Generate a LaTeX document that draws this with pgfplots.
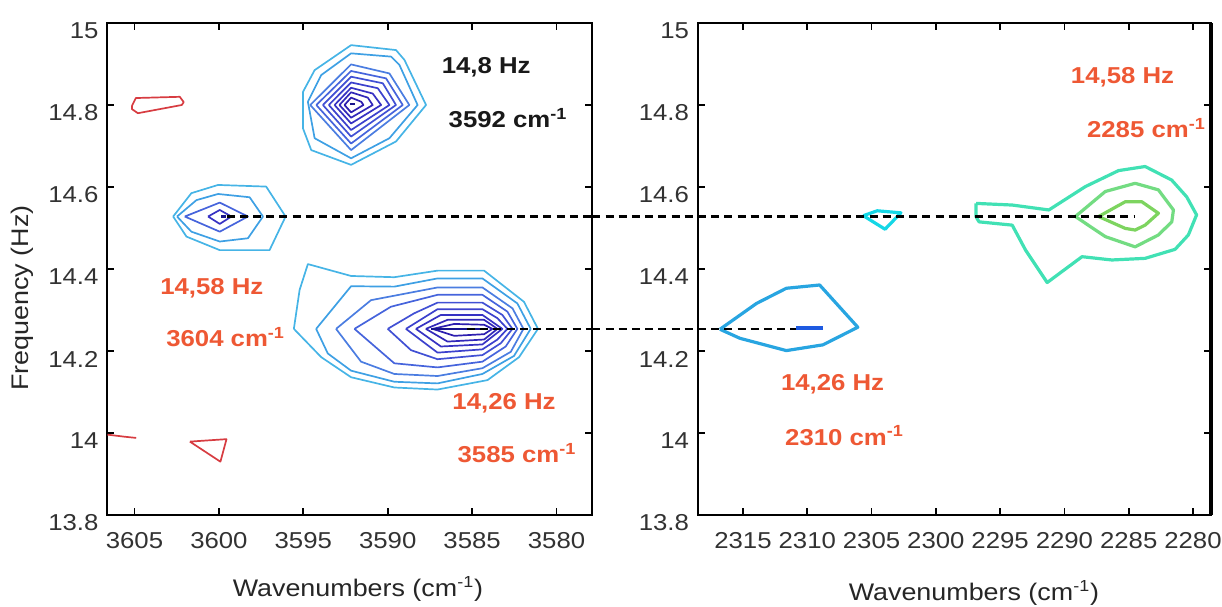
\documentclass[border=0pt]{standalone}
\usepackage{pgfplots}
\pgfplotsset{compat=1.18}
\usepackage{fontspec}
\setmainfont[FakeStretch=1.12]{Liberation Sans}

% contour level colours (outer -> inner)
\definecolor{cA}{RGB}{70,180,230}
\definecolor{cB}{RGB}{62,160,228}
\definecolor{cC}{RGB}{75,125,225}
\definecolor{cD}{RGB}{70,100,220}
\definecolor{cE}{RGB}{65,80,212}
\definecolor{cF}{RGB}{60,65,205}
\definecolor{cG}{RGB}{55,50,195}
\definecolor{cH}{RGB}{50,40,185}
\definecolor{cI}{RGB}{45,30,175}
\definecolor{cCore}{RGB}{25,20,140}
\definecolor{cRed}{RGB}{215,60,65}
\definecolor{cLab}{RGB}{238,88,52}
\definecolor{cBlueR}{RGB}{40,165,225}
\definecolor{cBlueCore}{RGB}{30,90,225}
\definecolor{cCyan}{RGB}{20,215,230}
\definecolor{cTeal}{RGB}{65,225,180}
\definecolor{cGreenA}{RGB}{115,220,130}
\definecolor{cGreenB}{RGB}{125,212,95}
\definecolor{tickgray}{RGB}{50,50,50}

\tikzset{
  ann/.style={font=\bfseries\fontsize{11.5}{12}\selectfont, text=cLab, inner sep=0pt},
}
\pgfplotsset{
  panel/.style={
    scale only axis,
    height=246pt,
    ymin=13.8, ymax=15,
    ytick={13.8,14,14.2,14.4,14.6,14.8,15},
    yticklabels={13.8,14,14.2,14.4,14.6,14.8,15},
    x dir=reverse,
    tick align=inside,
    major tick length=3.5pt,
    axis line style={line width=1pt, black},
    tick style={line width=0.9pt, black},
    ticklabel style={font=\fontsize{11.5}{12}\selectfont, text=tickgray},
    yticklabel style={yshift=-4pt, xshift=-1pt},
    xticklabel style={yshift=-5pt},
    label style={font=\fontsize{12}{14}\selectfont, text=black!85},
    clip=false,
    /pgf/number format/assume math mode=true,
  },
  lev/.style={line width=0.85pt, line join=round},
  levR/.style={line width=1.6pt, line join=round},
  dashline/.style={black, line width=1.2pt, dash pattern=on 4pt off 2.6pt},
}

\begin{document}
\begin{tikzpicture}
% ---------------- left panel: 3600 cm-1 region ----------------
\begin{axis}[panel,
  at={(0pt,0pt)}, anchor=south west,
  width=242.25pt,
  xmin=3577.9, xmax=3606.6,
  xtick={3580,3585,3590,3595,3600,3605},
  xticklabels={3580,3585,3590,3595,3600,3605},
  xlabel={Wavenumbers (cm\textsuperscript{-1})},
  xlabel style={at={(axis description cs:0.517,-0.15)}, anchor=center},
  ylabel={Frequency (Hz)},
  ylabel style={at={(axis description cs:-0.176,0.441)}, anchor=center},
]
% lower band, 14.26 Hz
\addplot[lev, cA] coordinates {(3595.56,14.254) (3595.22,14.349) (3594.73,14.412) (3592.17,14.383) (3589.61,14.380) (3587.05,14.396) (3584.29,14.396) (3581.93,14.320) (3581.10,14.254) (3582.22,14.185) (3584.09,14.129) (3587.05,14.106) (3589.61,14.111) (3592.17,14.136) (3593.94,14.185) (3595.56,14.254)};
\addplot[lev, cB] coordinates {(3594.24,14.254) (3592.17,14.358) (3589.61,14.357) (3587.05,14.377) (3584.39,14.377) (3582.32,14.316) (3581.53,14.254) (3582.52,14.188) (3584.39,14.144) (3587.05,14.121) (3589.61,14.125) (3592.17,14.152) (3593.55,14.194) (3594.24,14.254)};
\addplot[lev, cC] coordinates {(3593.06,14.254) (3590.99,14.324) (3587.05,14.355) (3584.39,14.355) (3582.61,14.304) (3581.96,14.254) (3582.71,14.198) (3584.39,14.158) (3587.05,14.139) (3589.61,14.144) (3591.58,14.174) (3593.06,14.254)};
\addplot[lev, cD] coordinates {(3591.97,14.254) (3589.81,14.308) (3587.05,14.337) (3584.39,14.337) (3582.91,14.296) (3582.32,14.254) (3583.01,14.211) (3584.39,14.174) (3587.05,14.160) (3589.61,14.170) (3591.97,14.254)};
\addplot[lev, cE] coordinates {(3590.00,14.254) (3588.43,14.292) (3587.05,14.318) (3584.39,14.318) (3583.21,14.288) (3582.61,14.254) (3583.30,14.219) (3584.39,14.190) (3587.05,14.180) (3588.62,14.202) (3590.00,14.254)};
\addplot[lev, cF] coordinates {(3588.92,14.254) (3587.05,14.302) (3584.39,14.302) (3583.50,14.280) (3582.91,14.254) (3583.50,14.228) (3584.39,14.204) (3587.05,14.196) (3588.92,14.254)};
\addplot[lev, cG] coordinates {(3588.33,14.254) (3586.85,14.288) (3584.39,14.288) (3583.21,14.254) (3584.39,14.216) (3586.85,14.211) (3588.33,14.254)};
\addplot[lev, cH] coordinates {(3587.74,14.254) (3586.46,14.276) (3584.29,14.276) (3583.50,14.254) (3584.29,14.228) (3586.46,14.223) (3587.74,14.254)};
\addplot[lev, cI] coordinates {(3587.34,14.254) (3586.06,14.266) (3584.29,14.264) (3583.80,14.254) (3584.29,14.241) (3586.06,14.237) (3587.34,14.254)};
\addplot[cCore, line width=1.2pt] coordinates {(3587.44,14.254) (3584.49,14.254)};

% upper band, 14.8 Hz
\addplot[lev, cA] coordinates {(3595.02,14.832) (3594.33,14.885) (3592.17,14.946) (3589.51,14.934) (3589.01,14.910) (3587.73,14.800) (3589.51,14.711) (3592.17,14.654) (3594.53,14.690) (3595.02,14.743) (3595.02,14.832)};
\addplot[lev, cB] coordinates {(3594.73,14.808) (3593.94,14.873) (3592.17,14.926) (3589.80,14.918) (3589.31,14.898) (3588.23,14.800) (3589.90,14.719) (3592.17,14.670) (3594.33,14.719) (3594.73,14.808)};
\addplot[lev, cC] coordinates {(3594.59,14.800) (3592.17,14.899) (3589.90,14.877) (3588.72,14.800) (3592.17,14.690) (3594.59,14.800)};
\addplot[lev, cD] coordinates {(3594.23,14.800) (3592.17,14.883) (3590.10,14.865) (3589.11,14.800) (3592.17,14.706) (3594.23,14.800)};
\addplot[lev, cE] coordinates {(3593.84,14.800) (3592.17,14.869) (3590.29,14.853) (3589.51,14.800) (3592.17,14.723) (3593.84,14.800)};
\addplot[lev, cF] coordinates {(3593.49,14.800) (3592.17,14.855) (3590.59,14.841) (3589.90,14.800) (3592.17,14.739) (3593.49,14.800)};
\addplot[lev, cG] coordinates {(3593.15,14.800) (3592.17,14.842) (3590.89,14.828) (3590.39,14.800) (3592.17,14.755) (3593.15,14.800)};
\addplot[lev, cH] coordinates {(3592.86,14.800) (3592.17,14.831) (3591.18,14.818) (3590.89,14.800) (3592.17,14.769) (3592.86,14.800)};
\addplot[lev, cI] coordinates {(3592.56,14.800) (3592.17,14.818) (3591.57,14.808) (3591.44,14.800) (3592.17,14.782) (3592.56,14.800)};
\addplot[cCore, line width=1.2pt] coordinates {(3592.26,14.802) (3591.95,14.802)};

% middle band, 14.58 Hz
\addplot[lev, cA] coordinates {(3602.71,14.528) (3601.63,14.585) (3600.05,14.605) (3597.20,14.601) (3596.05,14.528) (3597.00,14.446) (3599.95,14.446) (3601.92,14.479) (3602.71,14.528)};
\addplot[lev, cB] coordinates {(3602.48,14.528) (3601.33,14.568) (3600.05,14.583) (3598.18,14.575) (3597.39,14.528) (3598.28,14.475) (3599.95,14.467) (3601.63,14.491) (3602.48,14.528)};
\addplot[lev, cD] coordinates {(3602.02,14.528) (3599.95,14.562) (3598.28,14.528) (3599.95,14.491) (3602.02,14.528)};
\addplot[lev, cG] coordinates {(3600.64,14.528) (3599.95,14.544) (3599.26,14.528) (3599.95,14.510) (3600.64,14.528)};
\addplot[cCore, line width=1.2pt] coordinates {(3599.86,14.528) (3599.56,14.528)};

% weak negative contours
\addplot[lev, cRed] coordinates {(3605.15,14.798) (3604.92,14.817) (3602.32,14.820) (3602.08,14.807) (3602.20,14.800) (3604.80,14.780) (3605.15,14.790) (3605.15,14.798)};
\addplot[lev, cRed] coordinates {(3606.60,13.996) (3605.60,13.991) (3604.90,13.988)};
\addplot[lev, cRed] coordinates {(3601.72,13.979) (3599.55,13.985) (3599.91,13.930) (3601.72,13.979)};

% correlation guides
\addplot[dashline] coordinates {(3599.54,14.528) (3577.90,14.528)};
\addplot[dashline] coordinates {(3585.30,14.254) (3577.90,14.254)};

% peak annotations
\node[ann, text=black!90] at (axis cs:3584.17,14.893) {14,8 Hz};
\node[ann, text=black!90] at (axis cs:3582.87,14.768) {3592 cm\textsuperscript{-1}};
\node[ann] at (axis cs:3600.42,14.354) {14,58 Hz};
\node[ann] at (axis cs:3599.60,14.234) {3604 cm\textsuperscript{-1}};
\node[ann] at (axis cs:3583.11,14.073) {14,26 Hz};
\node[ann] at (axis cs:3582.34,13.951) {3585 cm\textsuperscript{-1}};
\end{axis}

% ---------------- right panel: 2300 cm-1 region ----------------
\begin{axis}[panel,
  at={(295.25pt,0pt)}, anchor=south west,
  width=256.5pt,
  xmin=2278.6, xmax=2318.5,
  xtick={2280,2285,2290,2295,2300,2305,2310,2315},
  xticklabels={2280,2285,2290,2295,2300,2305,2310,2315},
  xlabel={Wavenumbers (cm\textsuperscript{-1})},
  xlabel style={at={(axis description cs:0.538,-0.158)}, anchor=center},
]
% 2310 cm-1 band
\addplot[levR, cBlueR] coordinates {(2316.79,14.253) (2313.95,14.316) (2311.63,14.353) (2309.04,14.361) (2306.07,14.258) (2308.78,14.215) (2311.63,14.201) (2315.24,14.231) (2316.79,14.253)};
\addplot[cBlueCore, line width=2pt] coordinates {(2310.85,14.255) (2308.78,14.255)};

% small feature near 2304 cm-1
\addplot[levR, cCyan] coordinates {(2305.64,14.530) (2304.56,14.542) (2302.72,14.537) (2303.95,14.497) (2305.64,14.530)};

% 2285 cm-1 band
\addplot[levR, cTeal] coordinates {(2296.87,14.560) (2294.06,14.556) (2291.21,14.544) (2288.37,14.601) (2285.79,14.640) (2283.72,14.650) (2281.66,14.617) (2280.49,14.576) (2279.72,14.532) (2280.36,14.483) (2281.39,14.448) (2283.72,14.426) (2286.31,14.422) (2288.63,14.430) (2291.34,14.367) (2293.02,14.446) (2294.06,14.507) (2296.64,14.515) (2296.87,14.527) (2296.87,14.560)};
\addplot[levR, cGreenA] coordinates {(2289.15,14.528) (2286.82,14.589) (2284.50,14.609) (2282.69,14.593) (2281.52,14.544) (2281.65,14.515) (2282.69,14.483) (2284.50,14.454) (2286.82,14.479) (2289.15,14.528)};
\addplot[levR, cGreenB] coordinates {(2287.34,14.528) (2285.27,14.564) (2283.98,14.564) (2282.69,14.536) (2283.72,14.507) (2284.50,14.495) (2285.27,14.499) (2287.34,14.528)};

% correlation guides continued from the left panel
\addplot[dashline] coordinates {(2326.72,14.528) (2284.50,14.528)};
\addplot[dashline] coordinates {(2326.72,14.254) (2310.85,14.254)};

% heavier frame on top and right
\draw[line width=1.4pt] (rel axis cs:0,1) -- (rel axis cs:1,1);
\draw[line width=2.2pt] (rel axis cs:1,0) -- (rel axis cs:1,1);

% peak annotations
\node[ann] at (axis cs:2285.48,14.868) {14,58 Hz};
\node[ann] at (axis cs:2283.62,14.744) {2285 cm\textsuperscript{-1}};
\node[ann] at (axis cs:2308.03,14.120) {14,26 Hz};
\node[ann] at (axis cs:2307.10,13.993) {2310 cm\textsuperscript{-1}};
\end{axis}

\pgfresetboundingbox
\path (-53.75pt,-45.5pt) rectangle (557.25pt,257.5pt);
\end{tikzpicture}
\end{document}
